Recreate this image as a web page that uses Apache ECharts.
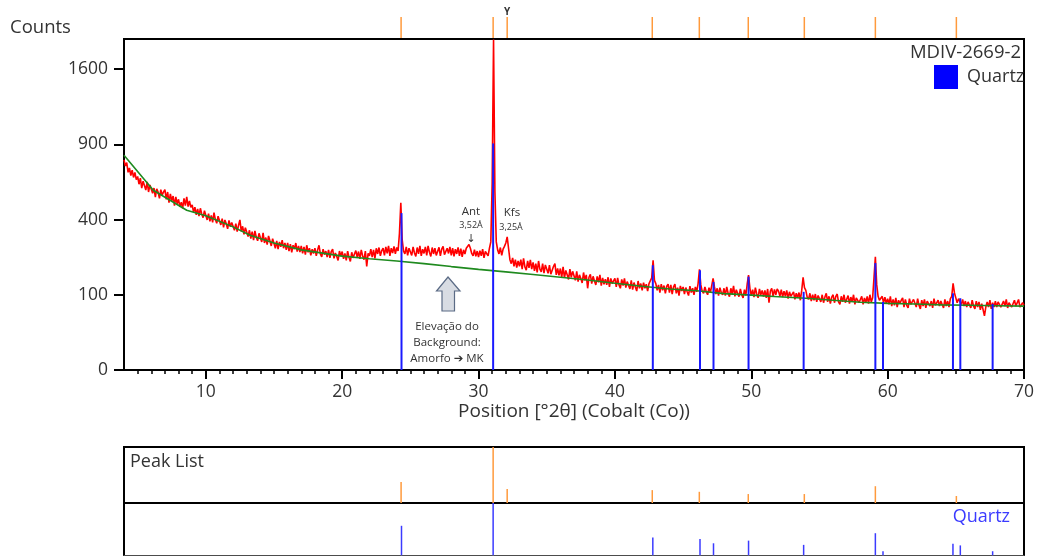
<!DOCTYPE html>
<html><head><meta charset="utf-8">
<script src="https://cdn.jsdelivr.net/npm/echarts@6/dist/echarts.min.js"></script>
<style>html,body{margin:0;padding:0;background:#fff}#c{width:1038px;height:556px}</style>
</head><body><div id="c"></div>
<script>
// Measured pattern: counts every 0.1 deg 2theta from 4.0 to 70.0
const START = 4.0, STEP = 0.1;
const counts = [
780,735,760,690,722,668,705,655,690,640,
662,610,650,585,630,618,572,625,560,605,
600,552,585,528,580,560,520,575,540,560,
575,515,560,495,548,505,535,478,530,488,
515,470,498,462,520,478,530,472,505,468,
482,440,468,425,458,418,462,430,410,448,
440,398,432,390,422,385,438,400,380,418,
412,372,405,360,398,378,352,395,362,385,
385,345,378,338,370,398,340,365,325,358,
352,315,345,305,338,298,342,312,295,330,
325,290,332,285,310,278,318,295,272,305,
300,262,295,258,290,268,298,262,285,255,
285,250,280,245,275,258,285,248,272,246,
272,240,268,235,275,245,262,232,258,240,
262,230,255,275,238,226,258,235,250,225,
255,222,248,258,220,242,228,212,250,230,
248,218,240,212,250,225,208,245,222,238,
252,225,248,218,255,230,215,250,190,240,
230,258,225,255,220,262,238,265,230,252,
262,232,268,240,272,230,262,242,270,238,
265,250,330,494,300,250,238,268,232,262,
262,232,268,242,228,265,238,272,230,258,
240,268,232,272,245,228,265,238,262,232,
240,266,230,258,270,235,228,262,240,268,
232,262,228,258,238,266,230,260,226,255,
238,262,270,278,262,240,230,256,228,250,
225,252,230,258,222,248,255,230,262,290,
620,1930,560,290,255,238,265,232,258,270,
285,313,262,215,200,222,190,215,185,210,
190,215,180,220,188,176,210,184,214,180,
205,174,200,168,210,180,170,200,166,195,
188,165,194,162,176,190,200,160,182,158,
182,152,188,150,175,160,145,180,152,172,
168,142,172,138,160,148,134,168,142,160,
118,152,162,132,155,140,128,155,136,160,
126,150,130,146,128,152,122,148,132,140,
148,122,150,128,118,145,126,148,120,138,
138,116,142,114,135,122,110,140,118,132,
112,135,118,130,110,132,128,150,213,142,
132,112,128,106,130,112,126,104,124,130,
106,128,102,122,130,104,120,98,125,110,
122,102,120,108,98,124,106,118,100,122,
108,132,179,128,110,104,122,108,100,120,
106,126,148,122,102,118,98,120,106,100,
118,98,122,104,95,118,102,125,96,114,
112,95,116,100,92,114,98,130,159,118,
98,114,94,120,102,92,116,100,112,95,
112,92,116,80,110,118,96,115,100,116,
110,96,114,94,110,96,112,90,108,96,
92,108,88,104,92,106,86,112,152,120,
112,94,88,104,84,100,86,102,82,98,
96,82,100,80,94,104,82,96,78,94,
100,80,96,102,82,76,96,82,100,80,
84,98,78,94,82,100,76,92,96,80,
82,96,76,92,80,96,78,100,82,92,
150,226,128,96,86,82,96,80,94,78,
90,76,96,72,88,74,92,70,86,78,
86,92,70,88,74,68,90,76,72,88,
84,70,90,74,66,86,72,88,68,84,
88,72,84,68,90,74,70,86,72,84,
82,68,88,72,84,70,90,96,133,105,
92,80,90,95,76,88,72,84,70,82,
82,68,86,72,66,84,70,82,64,78,
78,52,70,82,70,86,66,80,70,84,
70,82,86,70,66,84,72,88,68,80,
84,70,66,86,72,68,88,70,66,80,
74
];
// Fitted background (green)
const bgPos    = [4, 6.15, 8.6, 10, 12, 13.25, 15, 17, 20, 22, 24, 26, 28, 30, 32, 34, 36, 38, 40, 42, 44, 46, 48, 50, 52, 54, 56, 58, 60, 62, 64, 66, 68, 70];
const bgCounts = [815, 571, 451, 420, 362, 321, 285, 255, 229, 219, 210, 200, 189, 179, 170, 161, 152, 143, 133, 124, 116, 111, 103, 99, 95, 91, 86, 81, 78.5, 77, 75, 74, 73, 72];
// Quartz reference sticks
const quartzPos    = [24.35, 31.07, 42.78, 46.24, 47.23, 49.8, 53.84, 59.1, 59.66, 64.79, 65.33, 67.7];
const quartzCounts = [435, 907, 194, 176, 137, 154, 108, 202, 82, 104, 91, 77];
const quartzPanel  = [57, 100, 35, 32, 24, 29, 21, 43, 9, 23, 20, 9];
// Peak list
const peakPos = [24.32, 31.07, 32.1, 42.74, 46.19, 49.78, 53.89, 59.1, 65.04];
const peakRel = [37.5, 100, 25, 23, 20, 16, 16, 30, 12.5];
// Axis ticks
const xMajor = [10, 20, 30, 40, 50, 60, 70];
const xMinor = [5,6,7,8,9,11,12,13,14,15,16,17,18,19,21,22,23,24,25,26,27,28,29,31,32,33,34,35,36,37,38,39,41,42,43,44,45,46,47,48,49,51,52,53,54,55,56,57,58,59,61,62,63,64,65,66,67,68,69];
const yTickCounts = [0, 100, 400, 900, 1600];
const Y_MAX_COUNTS = 1936;

const FONT = 'Open Sans';
const TXT = '#333';
const chart = echarts.init(document.getElementById('c'), null, {renderer: 'canvas'});

const sq = Math.sqrt;
const redData = counts.map((c, i) => [+(START + i * STEP).toFixed(2), sq(c)]);
const bgData = bgPos.map((x, i) => [x, sq(bgCounts[i])]);
const quartzData = quartzPos.map((x, i) => [x, sq(quartzCounts[i])]);

function stick(color, width) {
  return function (params, api) {
    const p0 = api.coord([api.value(0), 0]);
    const p1 = api.coord([api.value(0), api.value(1)]);
    return {type: 'line', shape: {x1: p0[0], y1: p0[1], x2: p1[0], y2: p1[1]},
      style: {stroke: color, lineWidth: width}};
  };
}
function topTick(color, width, len) {
  return function (params, api) {
    const x = api.coord([api.value(0), 0])[0];
    const top = params.coordSys.y;
    return {type: 'line', shape: {x1: x, y1: top - 1, x2: x, y2: top - 1 - len},
      style: {stroke: color, lineWidth: width}};
  };
}

const hiddenX = (gi) => ({type: 'value', gridIndex: gi, min: 4, max: 70, show: false});

chart.setOption({
  animation: false,
  textStyle: {fontFamily: FONT},
  grid: [
    {left: 124, top: 39, width: 900, height: 331, show: true, borderColor: '#000', borderWidth: 2},
    {left: 124, top: 447, width: 900, height: 56, show: true, borderColor: '#000', borderWidth: 2},
    {left: 124, top: 503, width: 900, height: 56, show: true, borderColor: '#000', borderWidth: 2}
  ],
  xAxis: [
    {type: 'value', gridIndex: 0, min: 4, max: 70,
      axisLine: {lineStyle: {color: '#000', width: 2}},
      axisTick: {customValues: xMajor, length: 9, lineStyle: {color: '#000', width: 2}},
      axisLabel: {customValues: xMajor, color: TXT, fontSize: 17.5, margin: 13, fontFamily: FONT},
      splitLine: {show: false},
      name: 'Position [°2θ] (Cobalt (Co))', nameLocation: 'middle', nameGap: 32, nameMoveOverlap: false,
      nameTextStyle: {color: TXT, fontSize: 19, fontFamily: FONT}},
    {type: 'value', gridIndex: 0, min: 4, max: 70, position: 'bottom',
      axisLine: {show: false},
      axisTick: {customValues: xMinor, length: 4, lineStyle: {color: '#000', width: 1.5}},
      axisLabel: {show: false}, splitLine: {show: false}},
    hiddenX(1),
    {type: 'value', gridIndex: 2, min: 4, max: 70, position: 'top', z: 5,
      axisLine: {show: true, lineStyle: {color: '#666', width: 1.5}},
      axisTick: {show: false}, axisLabel: {show: false}, splitLine: {show: false}}
  ],
  yAxis: [
    {type: 'value', gridIndex: 0, min: 0, max: sq(Y_MAX_COUNTS),
      axisLine: {show: true, lineStyle: {color: '#000', width: 2}},
      axisTick: {show: true, customValues: yTickCounts.map(sq), length: 10, lineStyle: {color: '#000', width: 2}},
      axisLabel: {customValues: yTickCounts.map(sq), color: TXT, fontSize: 17.5, margin: 16, fontFamily: FONT,
        formatter: v => String(Math.round(v * v))},
      splitLine: {show: false}},
    {type: 'value', gridIndex: 1, min: 0, max: 100, show: false},
    {type: 'value', gridIndex: 2, min: 0, max: 100, show: false}
  ],
  legend: {
    data: ['Quartz'], left: 934, top: 65, icon: 'rect', itemWidth: 24, itemHeight: 24,
    selectedMode: false, padding: 0,
    textStyle: {color: TXT, fontSize: 18, fontFamily: FONT, padding: [0, 0, 0, 4]}
  },
  series: [
    {name: 'Measured', type: 'line', xAxisIndex: 0, yAxisIndex: 0, data: redData,
      showSymbol: false, symbol: 'none', lineStyle: {color: '#ff0000', width: 1.6}, z: 2},
    {name: 'Background', type: 'line', xAxisIndex: 0, yAxisIndex: 0, data: bgData,
      showSymbol: false, symbol: 'none', lineStyle: {color: '#1f8a1f', width: 1.6}, z: 3},
    {name: 'Quartz', type: 'custom', xAxisIndex: 0, yAxisIndex: 0, data: quartzData,
      itemStyle: {color: '#0000ff'}, renderItem: stick('#1a1aff', 2), z: 4},
    {name: 'PeakTop', type: 'custom', xAxisIndex: 0, yAxisIndex: 0, data: peakPos.map(x => [x, 0]),
      clip: false, renderItem: topTick('#ff9a3c', 1.5, 21), z: 4},
    {name: 'PeakList', type: 'custom', xAxisIndex: 2, yAxisIndex: 1, data: peakPos.map((x, i) => [x, peakRel[i]]),
      renderItem: stick('#ff9a3c', 1.5), z: 4},
    {name: 'QuartzPanel', type: 'custom', xAxisIndex: 3, yAxisIndex: 2, data: quartzPos.map((x, i) => [x, quartzPanel[i]]),
      renderItem: stick('#3b3bff', 1.5), z: 4}
  ],
  graphic: [
    {type: 'text', left: 10, top: 18, style: {text: 'Counts', fontSize: 18.5, fill: TXT, fontFamily: FONT}},
    {type: 'text', x: 1021, y: 53, style: {text: 'MDIV-2669-2', fontSize: 18.5, fill: TXT, fontFamily: FONT, align: 'right', verticalAlign: 'middle'}},
    {type: 'text', x: 507, y: 12, style: {text: 'Y', fontSize: 10, fontWeight: 'bold', fill: TXT, fontFamily: FONT, align: 'center', verticalAlign: 'middle'}},
    {type: 'text', x: 471, y: 212, style: {text: 'Ant', fontSize: 11.5, fill: TXT, fontFamily: FONT, align: 'center', verticalAlign: 'middle'}},
    {type: 'text', x: 471, y: 225.5, style: {text: '3,52Å', fontSize: 9, fill: TXT, fontFamily: FONT, align: 'center', verticalAlign: 'middle'}},
    {type: 'text', x: 471, y: 239, style: {text: '↓', fontSize: 11, fill: TXT, fontFamily: 'DejaVu Sans', align: 'center', verticalAlign: 'middle'}},
    {type: 'text', x: 512, y: 213, style: {text: 'Kfs', fontSize: 11.5, fill: TXT, fontFamily: FONT, align: 'center', verticalAlign: 'middle'}},
    {type: 'text', x: 511, y: 227.5, style: {text: '3,25Å', fontSize: 9, fill: TXT, fontFamily: FONT, align: 'center', verticalAlign: 'middle'}},
    {type: 'polygon', shape: {points: [[448, 277], [460, 291], [454.5, 291], [454.5, 311], [442, 311], [442, 291], [436.5, 291]]},
      style: {fill: '#d8dce3', stroke: '#5b6b85', lineWidth: 1.2}},
    {type: 'text', x: 447, y: 327, style: {text: 'Elevação do', fontSize: 11.5, fill: TXT, fontFamily: FONT, align: 'center', verticalAlign: 'middle'}},
    {type: 'text', x: 447, y: 343, style: {text: 'Background:', fontSize: 11.5, fill: TXT, fontFamily: FONT, align: 'center', verticalAlign: 'middle'}},
    {type: 'text', x: 447, y: 359, style: {text: 'Amorfo ➔ MK', fontSize: 11.5, fill: TXT, fontFamily: 'Open Sans, DejaVu Sans', align: 'center', verticalAlign: 'middle'}},
    {type: 'text', left: 130, top: 453, style: {text: 'Peak List', fontSize: 18, fill: TXT, fontFamily: FONT}},
    {type: 'text', x: 1010, y: 517, style: {text: 'Quartz', fontSize: 18, fill: '#3b3bff', fontFamily: FONT, align: 'right', verticalAlign: 'middle'}}
  ]
});
</script>
</body></html>
